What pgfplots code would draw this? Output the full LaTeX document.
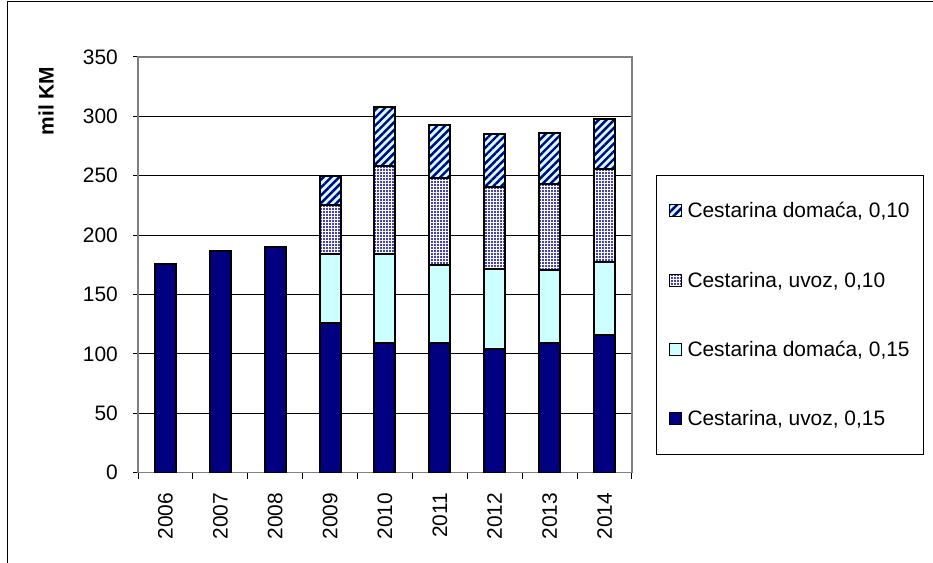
\documentclass[border=0pt]{standalone}
\usepackage{fontspec}
\setmainfont{Liberation Sans}
\usepackage{pgfplots}
\pgfplotsset{compat=1.18}
\usetikzlibrary{patterns.meta}

\definecolor{navybar}{RGB}{0,0,128}
\definecolor{lightcy}{RGB}{204,255,255}
\definecolor{axgray}{RGB}{128,128,128}

\begin{document}
\begin{tikzpicture}
\path[use as bounding box] (0,0) rectangle (933bp,563bp);
% chart frame (left and top edge visible)
\draw[line width=1.5bp] (7.5bp,0) -- (7.5bp,561.5bp) -- (933bp,561.5bp);
\begin{axis}[
    at={(138bp,90.3bp)}, anchor=south west,
    scale only axis,
    width=494bp, height=415.8bp,
    ybar stacked,
    bar width=21bp,
    xmin=-0.5, xmax=8.5,
    ymin=0, ymax=350,
    xtick={0,...,8},
    xticklabels={2006,2007,2008,2009,2010,2011,2012,2013,2014},
    minor xtick={-0.5,0.5,...,8.5},
    ytick={0,50,...,350},
    tick align=outside,
    tick pos=left,
    major tick length=5bp,
    minor tick length=6bp,
    major x tick style={draw=none},
    every tick/.style={black, line width=1bp},
    ymajorgrids,
    major grid style={black, line width=0.8bp},
    axis line style={axgray, line width=1.5bp},
    tick label style={font=\fontsize{21}{25}\selectfont},
    /pgf/number format/assume math mode=true,
    xticklabel style={rotate=90, anchor=east, inner sep=0pt},
    xticklabel shift=15bp,
    yticklabel style={inner sep=0pt},
    yticklabel shift=15bp,
    every axis y label/.style={at={(axis description cs:-0.1862,0.894)}, rotate=90, anchor=center},
    ylabel={\fontsize{21}{25}\selectfont\bfseries mil KM},
    every axis plot/.append style={draw=black, line width=2bp},
    reverse legend,
    legend cell align=left,
    legend image code/.code={\draw[#1, line width=1bp] (0bp,-6bp) rectangle (12bp,6bp);},
    legend style={
        at={(1.0486,0.716)}, anchor=north west,
        draw=black, line width=1bp, fill=white,
        font=\fontsize{21}{25}\selectfont,
        nodes={inner sep=2bp},
        row sep=48.5bp,
        inner xsep=12bp, inner ysep=25bp,
        /tikz/every odd column/.append style={column sep=4bp},
    },
]
\addplot[fill=navybar] coordinates {(0,176) (1,187) (2,190) (3,126) (4,109) (5,109) (6,104.5) (7,109) (8,116)};
\addlegendentry{Cestarina, uvoz, 0,15}
\addplot[fill=lightcy] coordinates {(0,0) (1,0) (2,0) (3,58) (4,75) (5,66) (6,67) (7,62) (8,61)};
\addlegendentry{Cestarina domaća, 0,15}
\addplot[fill=white, postaction={pattern={Dots[distance=3bp,radius=1.1bp]}, pattern color=navybar}] coordinates {(0,0) (1,0) (2,0) (3,41) (4,74) (5,73) (6,69) (7,72) (8,79)};
\addlegendentry{Cestarina, uvoz, 0,10}
\addplot[fill=lightcy, postaction={pattern={Lines[angle=45,distance=5.5bp,line width=2.4bp]}, pattern color=navybar}] coordinates {(0,0) (1,0) (2,0) (3,25) (4,50) (5,45) (6,45) (7,43) (8,42)};
\addlegendentry{Cestarina domaća, 0,10}
\end{axis}
\end{tikzpicture}
\end{document}
